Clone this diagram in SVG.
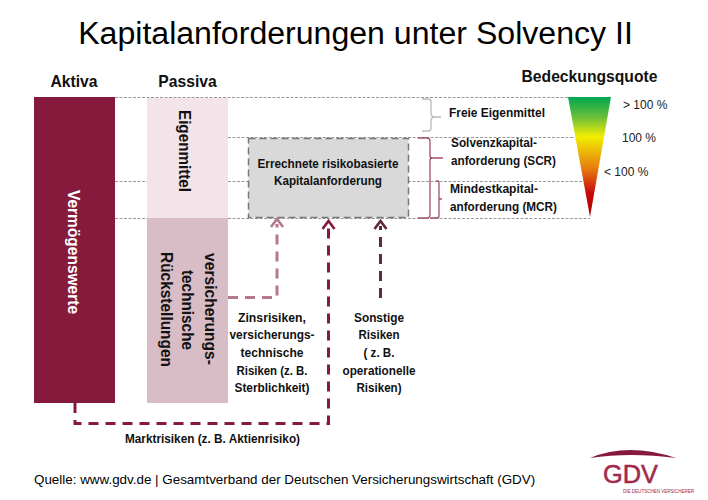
<svg xmlns="http://www.w3.org/2000/svg" width="708" height="500" viewBox="0 0 708 500">
<defs>
<linearGradient id="quote" x1="0" y1="0" x2="0" y2="1">
<stop offset="0" stop-color="#00a651"/><stop offset="0.17" stop-color="#6cbf3a"/><stop offset="0.33" stop-color="#f2ee00"/><stop offset="0.6" stop-color="#e67a10"/><stop offset="0.8" stop-color="#c80a0a"/><stop offset="1" stop-color="#a80000"/>
</linearGradient>
</defs>
<style>
text{font-family:"Liberation Sans",Arial,sans-serif;fill:#111}
.t{font-size:12.5px;font-weight:bold;text-anchor:middle}
.h{font-size:15.7px;font-weight:bold;text-anchor:middle}
.v{font-size:16.5px;font-weight:bold;text-anchor:middle}
.l{font-size:13px;font-weight:bold}
.q{font-size:12px;fill:#222}
.dot{fill:none;stroke:#999;stroke-width:1;stroke-dasharray:3 1.5}
.br{fill:none;stroke-width:1.3}
.c{fill:none;stroke-width:3;stroke-dasharray:10 7}
.ah{fill:none;stroke-width:2.6}
</style>
<text x="355.500" y="44" font-size="32.100" text-anchor="middle" style="fill:#000">Kapitalanforderungen unter Solvency II</text>
<text class="h" x="74" y="87">Aktiva</text>
<text class="h" x="187.500" y="87">Passiva</text>
<text class="h" x="589.500" y="82">Bedeckungsquote</text>

<g id="dotted-lines">
<path class="dot" d="M115 97.500H568M228 137.500H575M115 181.500H147M228 181.500H248M408 181.500H583M115 218.500H147M228 218.500H590"/>
</g>
<g id="aktiva"><rect x="34" y="97" width="81" height="306" fill="#851a3c"/>
<text class="v" transform="translate(68 252) rotate(90)" style="fill:#fff" textLength="124" lengthAdjust="spacingAndGlyphs">Vermögenswerte</text></g>
<g id="eigenmittel"><rect x="147" y="98" width="81" height="120" fill="#f2e4e9"/>
<text class="v" transform="translate(179 151) rotate(90)" textLength="82" lengthAdjust="spacingAndGlyphs">Eigenmittel</text></g>
<g id="rueckstellungen"><rect x="147" y="218" width="81" height="185" fill="#d9bdc6"/>
<text class="v" transform="translate(205 309) rotate(90)" textLength="112" lengthAdjust="spacingAndGlyphs">versicherungs-</text>
<text class="v" transform="translate(182 310) rotate(90)" textLength="80" lengthAdjust="spacingAndGlyphs">technische</text>
<text class="v" transform="translate(161 309.500) rotate(90)" textLength="115" lengthAdjust="spacingAndGlyphs">Rückstellungen</text></g>
<g id="kapitalanforderung"><rect x="248.500" y="138.500" width="160" height="79" fill="#d9d9d9" stroke="#777" stroke-width="1.500" stroke-dasharray="7 4"/>
<text class="t" x="328" y="168" textLength="141" lengthAdjust="spacingAndGlyphs">Errechnete risikobasierte</text>
<text class="t" x="328" y="185" textLength="108" lengthAdjust="spacingAndGlyphs">Kapitalanforderung</text></g>
<g id="connectors">
<path class="c" stroke="#b5788c" d="M228 297.500H277V224"/>
<path class="ah" stroke="#b5788c" d="M271 227L277 219L283 227"/>
<path class="c" stroke="#851a3c" d="M75 403V423.500H328.500V224"/>
<path class="ah" stroke="#851a3c" d="M322.500 229L328.500 221L334.500 229"/>
<path class="c" stroke="#5e2a40" d="M380.500 298V226"/>
<path class="ah" stroke="#5e2a40" d="M374.500 229L380.500 221L386.500 229"/>
</g>
<g id="klammern">
<path class="br" stroke="#bbb" d="M422 99H428Q431 99 431 102V113Q431 117 435 117H441M435 117Q431 117 431 121V128Q431 131 428 131H422"/>
<path class="br" stroke="#a0506c" d="M418 138H427Q430 138 430 141V156Q430 158 433 158H443M433 158Q430 158 430 160V214Q430 218 427 218H418"/>
<path class="br" stroke="#a0506c" d="M436 181H438Q439 181 439 183V199H442M439 199V216Q439 218 437 218H430"/>
</g>
<g id="labels">
<text class="l" x="449" y="117" textLength="96" lengthAdjust="spacingAndGlyphs">Freie Eigenmittel</text>
<text class="l" x="451" y="147" textLength="86" lengthAdjust="spacingAndGlyphs">Solvenzkapital-</text>
<text class="l" x="451" y="165" textLength="105" lengthAdjust="spacingAndGlyphs">anforderung (SCR)</text>
<text class="l" x="450" y="193" textLength="88" lengthAdjust="spacingAndGlyphs">Mindestkapital-</text>
<text class="l" x="450" y="211" textLength="107" lengthAdjust="spacingAndGlyphs">anforderung (MCR)</text>
<text class="t" x="272" y="322" textLength="68" lengthAdjust="spacingAndGlyphs">Zinsrisiken,</text>
<text class="t" x="272" y="339" textLength="85" lengthAdjust="spacingAndGlyphs">versicherungs-</text>
<text class="t" x="272" y="357" textLength="63" lengthAdjust="spacingAndGlyphs">technische</text>
<text class="t" x="272" y="375" textLength="71" lengthAdjust="spacingAndGlyphs">Risiken (z. B.</text>
<text class="t" x="272" y="392" textLength="75" lengthAdjust="spacingAndGlyphs">Sterblichkeit)</text>
<text class="t" x="379" y="322" textLength="50" lengthAdjust="spacingAndGlyphs">Sonstige</text>
<text class="t" x="379" y="339" textLength="41" lengthAdjust="spacingAndGlyphs">Risiken</text>
<text class="t" x="379" y="357" textLength="31" lengthAdjust="spacingAndGlyphs">( z. B.</text>
<text class="t" x="379" y="375" textLength="73" lengthAdjust="spacingAndGlyphs">operationelle</text>
<text class="t" x="379" y="392" textLength="45" lengthAdjust="spacingAndGlyphs">Risiken)</text>
<text class="t" x="212.500" y="443" textLength="175" lengthAdjust="spacingAndGlyphs">Marktrisiken (z. B. Aktienrisiko)</text>
</g>
<g id="bedeckungsquote">
<polygon points="568,97 611,97 590,217" fill="url(#quote)"/>
<text class="q" x="623" y="109">&gt; 100 %</text>
<text class="q" x="622" y="142">100 %</text>
<text class="q" x="604" y="176">&lt; 100 %</text>
</g>
<text x="34" y="484" font-size="13.400" style="fill:#000">Quelle: www.gdv.de | Gesamtverband der Deutschen Versicherungswirtschaft (GDV)</text>
<g id="gdv-logo">
<path d="M590 458Q628 442 676 458Q630 452 590 458Z" fill="#851a3c"/>
<text x="603" y="483" font-size="25" style="fill:#a0294c;stroke:#a0294c;stroke-width:0.500" textLength="55" lengthAdjust="spacingAndGlyphs">GDV</text>
<text x="623" y="492.600" font-size="4.600" style="fill:#a0294c" textLength="71" lengthAdjust="spacingAndGlyphs">DIE DEUTSCHEN VERSICHERER</text>
</g>
</svg>
